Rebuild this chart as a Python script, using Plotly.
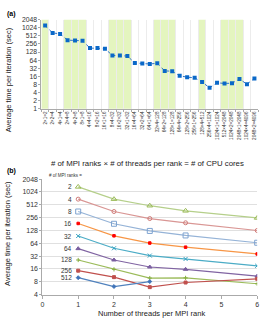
import math
import plotly.graph_objects as go

# ---------------- data (a) ----------------
config_labels = ["2×1=2", "2×2=4", "4×1=4", "2×4=8", "4×2=8", "8×1=8",
                 "4×4=16", "8×2=16", "16×1=16", "8×4=32", "16×2=32", "32×1=32",
                 "16×4=64", "32×2=64", "64×1=64", "32×4=128", "64×2=128", "128×1=128",
                 "64×4=256", "128×2=256", "256×1=256", "128×4=512", "256×4=1024",
                 "1024×1=1024", "512×4=2048", "1024×2=2048", "2048×1=2048",
                 "1024×4=4096", "2048×2=4096"]
time_a = [1235, 660, 605, 355, 345, 335, 180, 180, 170, 96, 96, 91,
          50, 47.5, 46, 49, 25.5, 24.8, 16.7, 14.9, 14.1, 9.8, 6.0,
          9.2, 8.7, 8.9, 12.6, 8.2, 13.3]
yticks_a = [1, 2, 4, 8, 16, 32, 64, 128, 256, 512, 1024, 2048]

# ---------------- data (b) ----------------
threads = [1, 2, 3, 4, 6]
ranks_names = ["2", "4", "8", "16", "32", "64", "128", "256", "512"]
t_r2 = [1350, 695, 488, 370, 252]
t_r4 = [695, 357, 244, 194, 128]
t_r8 = [357, 184, 125, 98, 66]
t_r16 = [187, 96, 65, 52, 36]
t_r32 = [95, 49, 33, 27.5, 19]
t_r64 = [48, 26, 17.8, 15.7, 10.9]
t_r128 = [26, 15.7, 9.8, 9.9, 7.2]
t_r256 = [14.6, 10.3, 6.0, 7.7, 9.4]
t_r512 = [10, 6.2, 8.1]
series_b = [t_r2, t_r4, t_r8, t_r16, t_r32, t_r64, t_r128, t_r256, t_r512]
yticks_b = [4, 8, 16, 32, 64, 128, 256, 512, 1024, 2048]

# styles (b)
styles = [
    dict(line="#b5cf8a", mcolor="#9bbb59", symbol="triangle-up-open", size=5),
    dict(line="#d99694", mcolor="#d07c79", symbol="circle-open", size=4),
    dict(line="#95b3d7", mcolor="#7ea3d0", symbol="square-open", size=5),
    dict(line="#f79646", mcolor="#ff0000", symbol="square", size=2.5),
    dict(line="#4bacc6", mcolor="#31a0c0", symbol="x-thin-open", size=4),
    dict(line="#8064a2", mcolor="#7a5ea0", symbol="triangle-up", size=4),
    dict(line="#9bbb59", mcolor="#86ad3e", symbol="cross-thin-open", size=3),
    dict(line="#c0504d", mcolor="#c0504d", symbol="square", size=3),
    dict(line="#4f81bd", mcolor="#3f73b8", symbol="diamond", size=3),
]

FONT = "Liberation Sans, Arial, sans-serif"
W, H = 271, 327

fig = go.Figure()

# chart (a)
fig.add_trace(go.Scatter(
    x=config_labels, y=time_a, mode="lines+markers",
    line=dict(color="#2e75c8", width=1, dash="dot"),
    marker=dict(symbol="square", size=4, color="#0a68c8"),
    xaxis="x", yaxis="y", showlegend=False))

# chart (b)
for name, vals, st in zip(ranks_names, series_b, styles):
    fig.add_trace(go.Scatter(
        x=threads[:len(vals)], y=vals, mode="lines+markers",
        line=dict(color=st["line"], width=1.2),
        marker=dict(symbol=st["symbol"], size=st["size"], color=st["mcolor"],
                    line=dict(color=st["mcolor"], width=1)),
        xaxis="x2", yaxis="y2", showlegend=False))

# green bands in (a): grouped by core count
shapes = []
groups = []
for i, lab in enumerate(config_labels):
    cores = lab.split("=")[1]
    if groups and groups[-1][0] == cores:
        groups[-1][2] = i
    else:
        groups.append([cores, i, i])
for gi, (cores, s, e) in enumerate(groups):
    if gi % 2 == 0:
        shapes.append(dict(type="rect", xref="x", yref="y domain",
                           x0=s - 0.5, x1=e + 0.5, y0=0, y1=1,
                           fillcolor="#e4f5bf", line=dict(width=0), layer="below"))

annotations = []
# series labels in (b)
for name, vals in zip(ranks_names, series_b):
    annotations.append(dict(x=threads[0], y=math.log10(vals[0]),
                            xref="x2", yref="y2", text=name, showarrow=False,
                            xanchor="right", xshift=-4,
                            font=dict(size=6.5, color="#333")))

annotations += [
    dict(x=10 / W, y=1 - 10 / H, xref="paper", yref="paper", text="<b>(a)</b>",
         showarrow=False, xanchor="center", yanchor="middle", font=dict(size=7, color="#000")),
    dict(x=10 / W, y=1 - 171 / H, xref="paper", yref="paper", text="<b>(b)</b>",
         showarrow=False, xanchor="center", yanchor="middle", font=dict(size=7, color="#000")),
    dict(x=6 / W, y=1 - 77 / H, xref="paper", yref="paper",
         text="Average time per iteration (sec)", textangle=-90, showarrow=False,
         xanchor="center", yanchor="middle", font=dict(size=7.5, color="#222")),
    dict(x=6 / W, y=1 - 234 / H, xref="paper", yref="paper",
         text="Average time per iteration (sec)", textangle=-90, showarrow=False,
         xanchor="center", yanchor="middle", font=dict(size=7.5, color="#222")),
    dict(x=148 / W, y=1 - 163 / H, xref="paper", yref="paper",
         text="# of MPI ranks × # of threads per rank = # of CPU cores", showarrow=False,
         xanchor="center", yanchor="middle", font=dict(size=7.8, color="#222")),
    dict(x=152 / W, y=1 - 316 / H, xref="paper", yref="paper",
         text="Number of threads per MPI rank", showarrow=False,
         xanchor="center", yanchor="middle", font=dict(size=7.5, color="#222")),
    dict(x=46 / W, y=1 - 175 / H, xref="paper", yref="paper",
         text="# of MPI ranks =", showarrow=False,
         xanchor="left", yanchor="middle", font=dict(size=4.5, color="#333")),
]

fig.update_layout(
    width=W, height=H,
    margin=dict(l=0, r=0, t=0, b=0),
    paper_bgcolor="white", plot_bgcolor="white",
    font=dict(family=FONT, color="#222"),
    shapes=shapes, annotations=annotations,
    xaxis=dict(domain=[40 / W, 260 / W], type="category", tickson="boundaries",
               range=[-0.5, len(config_labels) - 0.5],
               showgrid=True, gridcolor="#ececec", gridwidth=1,
               tickangle=-90, tickfont=dict(size=4.6, color="#333"),
               ticks="outside", ticklen=2, tickcolor="#aaa",
               showline=True, linecolor="#aaa", linewidth=1, zeroline=False,
               anchor="y"),
    yaxis=dict(domain=[1 - 107 / H, 1 - 16 / H], type="log",
               range=[0, math.log10(2048)],
               tickvals=yticks_a, ticktext=[str(v) for v in yticks_a],
               tickfont=dict(size=6.8, color="#333"),
               showgrid=False, showline=True, linecolor="#aaa", linewidth=1,
               ticks="outside", ticklen=2, tickcolor="#aaa", zeroline=False,
               anchor="x"),
    xaxis2=dict(domain=[41 / W, 259 / W], range=[0, 6], tickvals=[0, 1, 2, 3, 4, 5, 6],
                tickfont=dict(size=7, color="#333"), showgrid=False,
                showline=True, linecolor="#aaa", linewidth=1,
                ticks="outside", ticklen=3, tickcolor="#aaa", zeroline=False,
                anchor="y2"),
    yaxis2=dict(domain=[1 - 297 / H, 1 - 179 / H], type="log",
                range=[math.log10(4), math.log10(2048)],
                tickvals=yticks_b, ticktext=[str(v) for v in yticks_b],
                tickfont=dict(size=7, color="#333"),
                showgrid=True, gridcolor="#e0e0e0", gridwidth=1,
                showline=True, linecolor="#aaa", linewidth=1,
                ticks="outside", ticklen=2, tickcolor="#aaa", zeroline=False,
                anchor="x2"),
)

fig.write_html("out.html",
               config={"displayModeBar": False},
               post_script="document.body.style.margin='0';document.body.style.overflow='hidden';")
